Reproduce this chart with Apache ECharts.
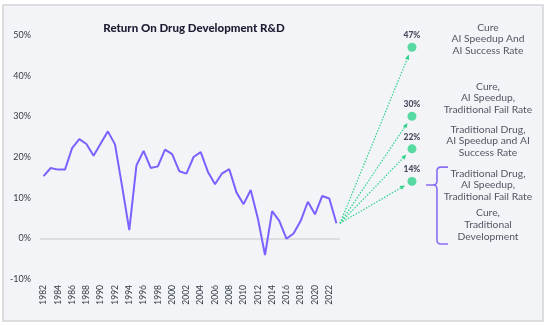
<!DOCTYPE html>
<html>
<head>
<meta charset="utf-8">
<style>
  html, body { margin: 0; padding: 0; background: #ffffff; }
  #chart { width: 550px; height: 325px; }
</style>
<script src="https://cdn.jsdelivr.net/npm/echarts@6/dist/echarts.min.js"></script>
</head>
<body>
<div id="chart"></div>
<script>
// Historical return on pharmaceutical R&D, 1982-2023 (%)
const years = [];
for (let y = 1982; y <= 2023; y++) years.push(String(y));
const returnData = [
  15.3, 17.3, 16.9, 16.9, 22.2, 24.4, 23.2, 20.3, 23.3, 26.3,
  23.1, 12.7, 2.0, 17.9, 21.5, 17.3, 17.7, 21.8, 20.7, 16.5,
  15.9, 20.0, 21.2, 16.4, 13.3, 16.0, 17.0, 11.3, 8.4, 11.9,
  4.9, -4.1, 6.7, 4.3, -0.1, 1.2, 4.3, 9.0, 5.9, 10.4,
  9.8, 3.7
];

// Projected returns for each development scenario (%)
const scenarioValues = [47, 30, 22, 14];
const scenarioNames = [
  'Cure\nAI Speedup And\nAI Success Rate',
  'Cure,\nAI Speedup,\nTraditional Fail Rate',
  'Traditional Drug,\nAI Speedup and AI\nSuccess Rate',
  'Traditional Drug,\nAI Speedup,\nTraditional Fail Rate',
  'Cure,\nTraditional\nDevelopment'
];
const yTicks = [-10, 0, 10, 20, 30, 40, 50];

const PURPLE = '#7b61ff';
const GREEN = '#2fd38b';
const FONT = 'Lato, "Open Sans", sans-serif';

// layout of the scenario panel (x in 0..1 of the right-hand grid)
const DOT_X = 0.351;
const TEXT_X = 0.722;
const textAnchorsY = [49.0, 34.5, 23.9, 13.1, 3.3];

const chart = echarts.init(document.getElementById('chart'), null, { renderer: 'canvas' });

const option = {
  backgroundColor: '#ffffff',
  animation: false,
  textStyle: { fontFamily: FONT },
  graphic: [{
    type: 'rect',
    z: -10,
    shape: { x: 3, y: 5, width: 540, height: 316 },
    style: { fill: '#f3f4f7', stroke: '#d3d4d8', lineWidth: 1.5 }
  }],
  title: {
    text: 'Return On Drug Development R&D',
    left: 189,
    top: 17,
    textAlign: 'center',
    textStyle: { fontFamily: FONT, fontSize: 11.5, fontWeight: 900, color: '#1c1d33' }
  },
  grid: [
    { left: 40, top: 35, width: 300, height: 244 },
    { left: 340, top: 35, width: 205, height: 244 }
  ],
  xAxis: [
    {
      type: 'category',
      gridIndex: 0,
      data: years,
      boundaryGap: true,
      axisLine: { show: false },
      axisTick: { show: false },
      splitLine: { show: false },
      axisLabel: {
        interval: 1,
        rotate: 90,
        margin: 6,
        fontSize: 8.5,
        color: '#333a45',
        fontFamily: FONT
      }
    },
    {
      type: 'value',
      gridIndex: 1,
      min: 0,
      max: 1,
      show: false
    }
  ],
  yAxis: [
    {
      type: 'value',
      gridIndex: 0,
      min: yTicks[0],
      max: yTicks[yTicks.length - 1],
      interval: 10,
      axisLine: { show: false },
      axisTick: { show: false },
      splitLine: { show: false },
      axisLabel: {
        formatter: '{value}%',
        margin: 9,
        fontSize: 9,
        color: '#333a45',
        fontFamily: FONT
      }
    },
    {
      type: 'value',
      gridIndex: 1,
      min: yTicks[0],
      max: yTicks[yTicks.length - 1],
      show: false
    }
  ],
  series: [
    {
      name: 'Return',
      type: 'line',
      xAxisIndex: 0,
      yAxisIndex: 0,
      data: returnData,
      symbol: 'none',
      lineStyle: { color: PURPLE, width: 2 },
      z: 5,
      markLine: {
        silent: true,
        symbol: 'none',
        label: { show: false },
        lineStyle: { color: '#d5d6da', width: 1.5, type: 'solid' },
        data: [{ yAxis: 0 }],
        z: 1
      }
    },
    {
      // dotted arrows from the latest observation to each scenario
      name: 'Arrows',
      type: 'custom',
      xAxisIndex: 1,
      yAxisIndex: 1,
      data: scenarioValues.map(v => [DOT_X, v]),
      silent: true,
      z: 3,
      renderItem: function (params, api) {
        const s = api.coord([0, returnData[returnData.length - 1]]);
        const e = api.coord([api.value(0), api.value(1)]);
        const dx = e[0] - s[0], dy = e[1] - s[1];
        const len = Math.sqrt(dx * dx + dy * dy);
        const ux = dx / len, uy = dy / len;
        const tip = [e[0] - ux * 8, e[1] - uy * 8];
        const headLen = 5, headW = 2.2;
        const base = [tip[0] - ux * headLen, tip[1] - uy * headLen];
        return {
          type: 'group',
          children: [
            {
              type: 'line',
              shape: { x1: s[0], y1: s[1], x2: base[0], y2: base[1] },
              style: { stroke: GREEN, lineWidth: 1.2, lineDash: [1.5, 1.5] }
            },
            {
              type: 'polygon',
              shape: {
                points: [
                  tip,
                  [base[0] - uy * headW, base[1] + ux * headW],
                  [base[0] + uy * headW, base[1] - ux * headW]
                ]
              },
              style: { fill: GREEN }
            }
          ]
        };
      }
    },
    {
      name: 'Scenarios',
      type: 'scatter',
      xAxisIndex: 1,
      yAxisIndex: 1,
      data: scenarioValues.map(v => [DOT_X, v]),
      symbolSize: 9,
      itemStyle: { color: GREEN },
      z: 6,
      label: {
        show: true,
        position: 'top',
        distance: 3,
        formatter: p => p.value[1] + '%',
        fontSize: 8.5,
        fontWeight: 900,
        color: '#1c1d33',
        fontFamily: FONT
      }
    },
    {
      name: 'Descriptions',
      type: 'scatter',
      xAxisIndex: 1,
      yAxisIndex: 1,
      data: scenarioNames.map((t, i) => ({ value: [TEXT_X, textAnchorsY[i]], name: t })),
      symbolSize: 0,
      silent: true,
      label: {
        show: true,
        position: 'inside',
        formatter: p => p.name,
        fontSize: 10.3,
        lineHeight: 11.8,
        align: 'center',
        verticalAlign: 'middle',
        color: '#2b2d3d',
        fontFamily: FONT
      }
    },
    {
      // curly brace grouping the two lowest scenarios
      name: 'Brace',
      type: 'custom',
      xAxisIndex: 1,
      yAxisIndex: 1,
      data: [[0.473, 17.5, 13.1, -1.4]],
      silent: true,
      renderItem: function (params, api) {
        const xv = api.value(0);
        const top = api.coord([xv, api.value(1)]);
        const mid = api.coord([xv, api.value(2)]);
        const bot = api.coord([xv, api.value(3)]);
        const vx = top[0];
        const armX = vx + 11;
        const tipX = vx - 11;
        const r = 4;
        const d = [
          'M', armX, top[1],
          'L', vx + r, top[1],
          'Q', vx, top[1], vx, top[1] + r,
          'L', vx, mid[1] - r,
          'Q', vx, mid[1], vx - r, mid[1],
          'L', tipX, mid[1],
          'M', vx - r, mid[1],
          'Q', vx, mid[1], vx, mid[1] + r,
          'L', vx, bot[1] - r,
          'Q', vx, bot[1], vx + r, bot[1],
          'L', armX, bot[1]
        ].join(' ');
        return {
          type: 'path',
          shape: { pathData: d },
          style: { stroke: '#8a6df5', lineWidth: 1.6, fill: null }
        };
      }
    }
  ]
};

chart.setOption(option);
</script>
</body>
</html>
